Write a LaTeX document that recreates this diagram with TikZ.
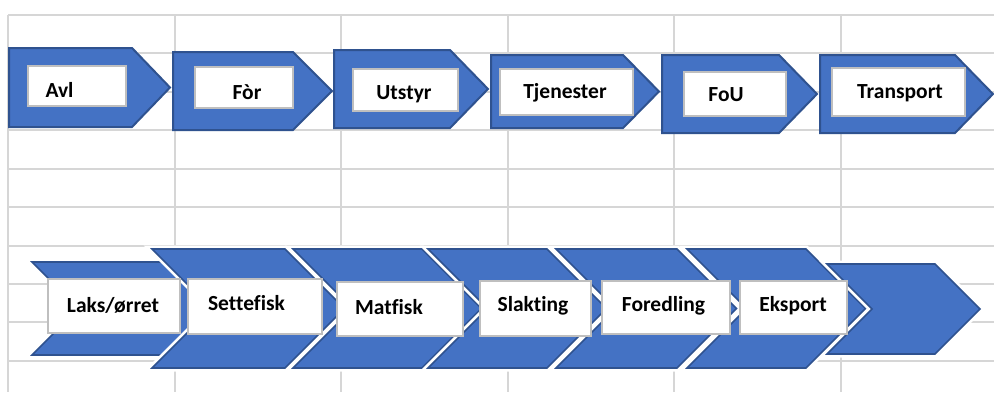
\documentclass[tikz,border=0pt]{standalone}
\usepackage{fontspec}
\setmainfont{Carlito}[Ligatures={NoCommon}]
\definecolor{accent}{HTML}{4472C4}
\definecolor{accentdark}{HTML}{2F528F}
\definecolor{gridgray}{HTML}{D6D6D6}
\definecolor{boxgray}{HTML}{BFBFBF}
\tikzset{
  gridline/.style={draw=gridgray, line width=1.2pt},
  plate/.style={fill=accent, draw=accentdark, line width=2pt, line join=miter},
  chevfill/.style={fill=accent, draw=accentdark, line width=1.6pt, line join=miter},
  chevhalo/.style={draw=white, line width=7pt, line join=miter},
  wbox/.style={fill=white, draw=boxgray, line width=1.3pt, inner sep=0pt},
  lbl/.style={inner sep=0pt, font=\fontsize{21.5}{25}\selectfont\bfseries, text=black},
}
% home plate: left, diag start, tip, top, bottom
\newcommand\myplate[5]{%
  \draw[plate] (#1,#4) -- (#2,#4) -- (#3,{(#4+#5)/2}) -- (#2,#5) -- (#1,#5) -- cycle;}
% chevron: xl, xr, top, bottom
\newcommand\mychev[4]{%
  \path[chevhalo] (#1,#3) -- (#2,#3) -- ({#2+(#4-#3)/2},{(#3+#4)/2}) -- (#2,#4) -- (#1,#4) -- ({#1+(#4-#3)/2},{(#3+#4)/2}) -- cycle;
  \draw[chevfill] (#1,#3) -- (#2,#3) -- ({#2+(#4-#3)/2},{(#3+#4)/2}) -- (#2,#4) -- (#1,#4) -- ({#1+(#4-#3)/2},{(#3+#4)/2}) -- cycle;}
\begin{document}
\begin{tikzpicture}[x=1pt,y=-1pt]
\useasboundingbox[fill=white] (0,0) rectangle (994,392);
% grid
\foreach \gx in {8,175,341,508,674,841} \draw[gridline] (\gx,15) -- (\gx,392);
\foreach \gy in {15,53,92,130,169,207,246,284,322,361} \draw[gridline] (8,\gy) -- (994,\gy);
% top row
\myplate{9}{132}{170}{48}{127}
\myplate{173}{293}{332}{52}{130}
\myplate{334}{450}{488}{50}{128}
\myplate{491}{623}{659}{55}{128}
\myplate{662}{779}{817}{55}{133}
\myplate{820}{955}{993}{55}{133}
\node[wbox, minimum width=98pt, minimum height=40pt] (b1) at (77,86) {};
\node[wbox, minimum width=98pt, minimum height=41pt] (b2) at (244,87.5) {};
\node[wbox, minimum width=105pt, minimum height=42pt] (b3) at (405.5,90) {};
\node[wbox, minimum width=133pt, minimum height=46pt] (b4) at (566.5,92) {};
\node[wbox, minimum width=102pt, minimum height=44pt] (b5) at (735,94) {};
\node[wbox, minimum width=133pt, minimum height=48pt] (b6) at (898.5,92) {};
\node[lbl] (t1) at (59.5,90) {Avl};
\node[lbl] (t2) at (247,92) {Fòr};
\node[lbl] (t3) at (404,94) {Utstyr};
\node[lbl] (t4) at (565,93) {Tjenester};
\node[lbl] (t5) at (726,95) {FoU};
\node[lbl] (t6) at (900,93) {Transport};
% bottom row
\draw[chevfill] (32,262) -- (168,262) -- (214.5,308.5) -- (168,355) -- (32,355) -- (78.5,308.5) -- cycle;
\mychev{152}{285}{249}{368}
\mychev{293}{422}{249}{368}
\mychev{428}{547}{249}{368}
\mychev{556}{677}{249}{368}
\mychev{687}{806}{249}{368}
\mychev{827}{935}{264}{354}
\node[wbox, minimum width=132pt, minimum height=54pt] (c1) at (114,306) {};
\node[wbox, minimum width=134pt, minimum height=55pt] (c2) at (255,306.5) {};
\node[wbox, minimum width=126pt, minimum height=54pt] (c3) at (400,309) {};
\node[wbox, minimum width=111pt, minimum height=55pt] (c4) at (535.5,308.5) {};
\node[wbox, minimum width=128pt, minimum height=53pt] (c5) at (666,307.5) {};
\node[wbox, minimum width=107pt, minimum height=53pt] (c6) at (793.5,307.5) {};
\node[lbl] (s1) at (113,305) {Laks/ørret};
\node[lbl] (s2) at (246.5,303.5) {Settefisk};
\node[lbl] (s3) at (389,307) {Matfisk};
\node[lbl] (s4) at (533,305.5) {Slakting};
\node[lbl] (s5) at (663.5,305.5) {Foredling};
\node[lbl] (s6) at (793,305.5) {Eksport};
\end{tikzpicture}
\end{document}
